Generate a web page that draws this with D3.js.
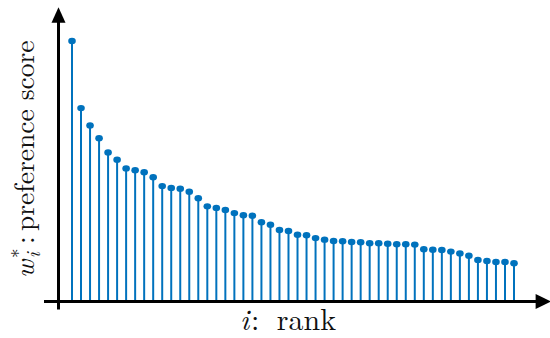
<!DOCTYPE html>
<html>
<head>
<meta charset="utf-8">
<script src="https://cdn.jsdelivr.net/npm/d3@7"></script>
<style>
  html, body { margin: 0; padding: 0; background: #fff; }
  svg { display: block; }
</style>
</head>
<body>
<svg id="chart" width="550" height="338"></svg>
<script>
// ranks 1..50
const ranks = [1,2,3,4,5,6,7,8,9,10,11,12,13,14,15,16,17,18,19,20,21,22,23,24,25,
               26,27,28,29,30,31,32,33,34,35,36,37,38,39,40,41,42,43,44,45,46,47,48,49,50];
// preference scores (normalised so the top score is 1)
const scores = [1.000,0.742,0.675,0.626,0.571,0.543,0.510,0.503,0.495,0.476,
                0.442,0.435,0.432,0.420,0.395,0.364,0.358,0.350,0.338,0.330,
                0.328,0.303,0.293,0.273,0.269,0.255,0.253,0.242,0.236,0.231,
                0.230,0.227,0.226,0.222,0.222,0.220,0.218,0.218,0.217,0.199,
                0.197,0.196,0.190,0.183,0.174,0.158,0.154,0.150,0.150,0.145];
const xLabel = "rank";
const yLabel = "preference score";

const svg = d3.select("#chart");
const blue = "#0072bd";

const x = d3.scaleLinear().domain([1, 50]).range([72, 514]);
const y = d3.scaleLinear().domain([0, 1]).range([301, 41]);

const axisX = x(1) - 13.5;      // vertical axis position
const axisY = y(0) + 0.5;       // horizontal axis position

// stems
svg.append("g").selectAll("line")
  .data(ranks)
  .join("line")
  .attr("x1", d => x(d)).attr("x2", d => x(d))
  .attr("y1", y(0)).attr("y2", (d, i) => y(scores[i]))
  .attr("stroke", blue).attr("stroke-width", 2);

// markers
svg.append("g").selectAll("ellipse")
  .data(ranks)
  .join("ellipse")
  .attr("cx", d => x(d))
  .attr("cy", (d, i) => y(scores[i]))
  .attr("rx", 3.8).attr("ry", 3.2)
  .attr("fill", blue);

// axes with arrows
const axes = svg.append("g");
axes.append("line")
  .attr("x1", axisX).attr("x2", axisX)
  .attr("y1", axisY + 8).attr("y2", y(1.075))
  .attr("stroke", "#000").attr("stroke-width", 3);
axes.append("path")
  .attr("d", `M${axisX},${y(1.13)} L${axisX - 7},${y(1.07)} L${axisX + 7},${y(1.07)} Z`)
  .attr("fill", "#000");
axes.append("line")
  .attr("x1", axisX - 14.5).attr("x2", x(52.5))
  .attr("y1", axisY).attr("y2", axisY)
  .attr("stroke", "#000").attr("stroke-width", 3);
axes.append("path")
  .attr("d", `M${x(54.1)},${axisY} L${x(52.4)},${axisY - 7.5} L${x(52.4)},${axisY + 7.5} Z`)
  .attr("fill", "#000");

const font = "Latin Modern Roman";

// x label: "i: rank"
const xg = svg.append("g")
  .attr("font-family", font)
  .attr("font-size", 30)
  .attr("fill", "#111");
xg.append("text").attr("x", 240).attr("y", 330)
  .attr("font-style", "italic").text("i");
xg.append("text").attr("x", 251).attr("y", 330).text(":");
xg.append("text").attr("x", 336).attr("y", 330)
  .attr("text-anchor", "end")
  .text(xLabel);

// y label: "w_i^*: preference score"
const yg = svg.append("g")
  .attr("transform", "translate(34,278) rotate(-90)")
  .attr("font-family", font)
  .attr("font-size", 27.5)
  .attr("fill", "#111");
yg.append("text").attr("x", 0).attr("y", 0)
  .attr("font-style", "italic").text("w");
yg.append("text").attr("x", 20).attr("y", -9)
  .attr("font-size", 19).text("*");
yg.append("text").attr("x", 20).attr("y", 6)
  .attr("font-size", 19).attr("font-style", "italic").text("i");
yg.append("text").attr("x", 34).attr("y", 0).text(":");
yg.append("text").attr("x", 47).attr("y", 0)
  .text(yLabel);
</script>
</body>
</html>
